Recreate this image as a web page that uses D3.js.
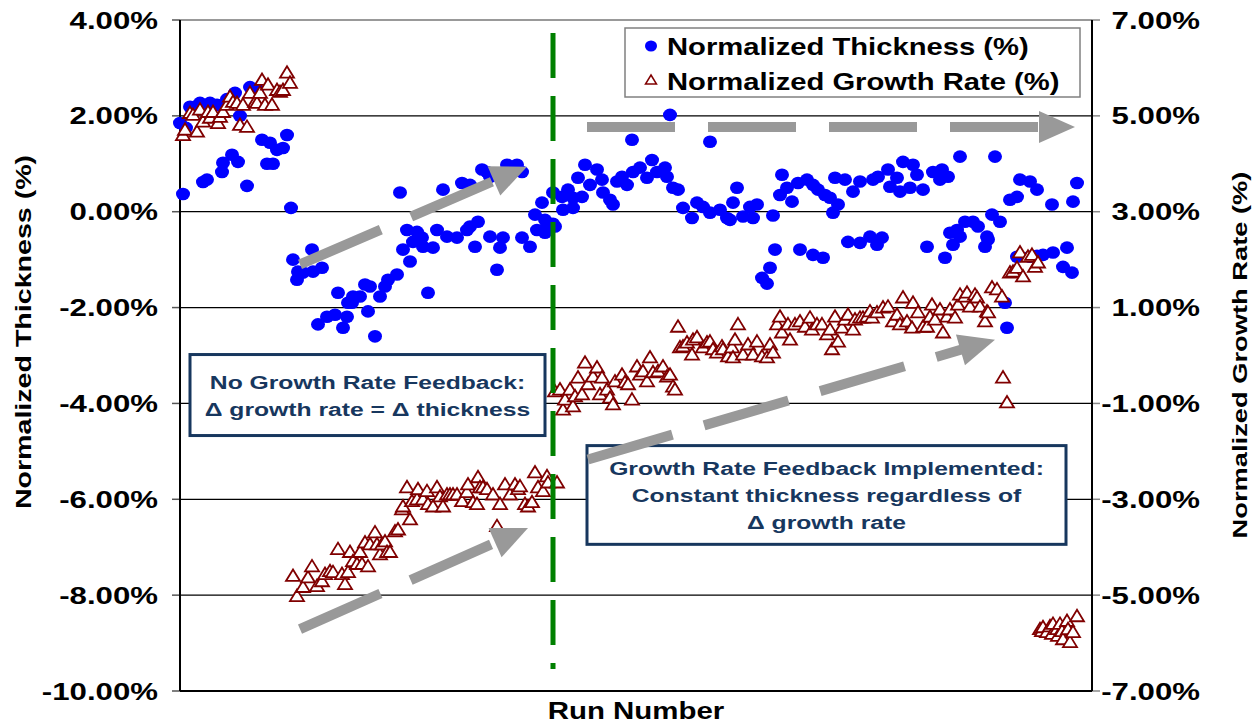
<!DOCTYPE html>
<html>
<head>
<meta charset="utf-8">
<script src="https://cdn.jsdelivr.net/npm/d3@7"></script>
<style>
  html, body { margin: 0; padding: 0; background: #ffffff; }
  svg { display: block; font-family: "Liberation Sans", Arial, Helvetica, sans-serif; font-weight: bold; }
</style>
</head>
<body>
<script>
// ---------------- DATA ----------------
// [run number, normalized thickness %] (left axis)
const thicknessBefore = [
  [0,1.85],[3,0.37],[6,1.75],[10,2.19],[17,2.2],[20,2.27],[23,0.62],[24,2.22],[27,0.67],[30,2.27],
  [37,2.23],[42,0.83],[43,1.02],[47,2.35],[52,1.19],[55,2.48],[58,1.04],[60,2.0],[67,0.54],[70,2.6],
  [77,2.55],[82,1.5],[87,1.0],[90,1.44],[93,1.0],[97,1.29],[103,1.33],[107,1.6],[111,0.08],
  [113,-1.0],[117,-1.42],[118,-1.25],[123,-1.27],[132,-0.79],[133,-1.25],[138,-2.35],[142,-1.17],[147,-2.19],[155,-2.15],
  [158,-1.69],[163,-2.42],[167,-2.19],[168,-1.9],[172,-1.9],[173,-1.77],[180,-1.77],[185,-1.52],[188,-2.08],[190,-1.56],
  [195,-2.6],[200,-1.77],[205,-1.56],[208,-1.42],[217,-1.31],[220,0.4],[223,-0.79],[227,-0.38],[230,-1.04],[233,-0.63],
  [237,-0.42],[242,-0.54],[243,-0.73],[248,-1.69],[253,-0.75],[257,-0.38],[263,0.46],[267,-0.52],[277,-0.54],[282,0.6],
  [287,-0.38],[290,0.56],[290,-0.31],[295,-0.73],[298,-0.21],[302,0.88],[307,0.83],[310,0.73],[310,-0.52],[317,-1.21],
  [320,-0.75],[323,-0.54],[327,0.98],[337,0.98],[342,0.83],[342,-0.54],[350,-0.73],[355,-0.06],[357,-0.38],[362,0.19],
  [365,-0.17],[365,-0.44],[367,-0.31],[373,0.4],[373,-0.25]
];
const thicknessAfter = [
  [375,-0.31],[382,0.31],[383,0.04],[388,0.46],[393,0.29],[393,0.08],[398,0.71],[402,0.31],[405,0.98],[410,0.56],
  [417,0.88],[422,0.67],[423,0.4],[430,0.25],[433,0.15],[437,0.63],[442,0.73],[447,0.56],[452,1.5],[453,0.83],
  [460,0.92],[467,0.71],[472,1.08],[477,0.83],[485,0.92],[487,0.73],[490,2.02],[493,0.5],[498,0.46],[503,0.08],
  [512,-0.13],[517,0.19],[523,0.1],[530,-0.02],[530,1.46],[540,0.04],[547,-0.13],[550,-0.17],[553,0.19],[557,0.5],
  [563,-0.1],[570,0.1],[573,-0.13],[577,0.15],[582,-1.38],[587,-1.5],[590,-1.17],[593,-0.08],[595,-0.79],[600,0.35],
  [602,0.77],[607,0.5],[612,0.21],[618,0.6],[620,-0.79],[627,0.67],[633,0.56],[633,-0.9],[638,0.46],[643,-0.96],
  [645,0.35],[650,0.29],[653,-0.02],[655,0.71],[658,0.15],[665,0.67],[668,-0.63],[673,0.42],[680,0.63],[680,-0.65],
  [690,-0.52],[693,0.67],[697,-0.69],[698,0.73],[702,-0.54],[708,0.88],[710,0.52],[717,0.71],[720,0.42],[723,1.04],
  [730,0.5],[733,0.98],[737,0.77],[743,0.46],[747,-0.73],[753,0.83],[760,0.67],[762,0.88],[765,-0.96],[768,0.73],
  [770,-0.44],[773,-0.69],[777,-0.38],[780,1.15],[780,-0.52],[785,-0.21],[793,-0.21],[798,-0.31],[805,-0.73],[807,-0.52],
  [808,-0.58],[812,-0.06],[815,1.15],[820,-0.21],[825,-1.9],[827,-2.42],[830,0.25],[837,0.31],[837,-0.94],[840,0.67],
  [850,0.63],[850,-0.94],[857,0.46],[857,-0.92],[863,-0.9],[872,0.15],[873,-0.85],[883,-1.15],[887,-0.75],[892,-1.27],
  [893,0.21],[897,0.6]
];
// [run number, normalized growth rate %] (right axis)
const growthBefore = [
  [3,4.6],[5,4.71],[10,5.06],[13,5.02],[17,4.67],[20,5.13],[23,4.88],[28,5.08],[30,4.96],[33,5.08],
  [38,4.85],[40,4.98],[43,5.08],[47,5.23],[50,5.4],[53,5.29],[57,5.27],[60,4.81],[63,5.23],[67,4.77],
  [70,5.48],[75,5.29],[77,5.27],[80,5.48],[82,5.75],[85,5.23],[88,5.65],[92,5.23],[97,5.54],[100,5.5],
  [103,5.54],[107,5.9],[110,5.69],
  [113,-4.6],[117,-5.02],[123,-4.83],[128,-4.63],[132,-4.4],[137,-4.81],[142,-4.71],[145,-4.56],[150,-4.5],[153,-4.52],
  [158,-4.04],[162,-4.56],[165,-4.77],[168,-4.52],[170,-4.1],[173,-4.29],[177,-4.35],[180,-4.1],[182,-4.35],[185,-3.9],
  [188,-4.4],[190,-3.94],[195,-3.69],[197,-3.94],[200,-4.15],[202,-3.94],[205,-3.88],[207,-4.1],[210,-4.1],[215,-3.67],
  [218,-3.63],[222,-3.21],[223,-3.15],[227,-2.75],[230,-3.42],[232,-3.04],[237,-3.0],[238,-2.79],[243,-3.0],[247,-2.83],
  [248,-3.1],[253,-3.15],[257,-2.75],[260,-2.94],[263,-3.15],[267,-2.9],[270,-2.9],[273,-2.9],[277,-2.9],[282,-3.04],
  [287,-2.85],[288,-2.69],[293,-3.06],[297,-3.1],[298,-2.54],[300,-2.75],[303,-2.75],[307,-2.79],[313,-2.9],[317,-3.56],
  [320,-3.1],[325,-2.69],[330,-2.9],[335,-2.69],[338,-2.79],[340,-2.73],[345,-3.1],[348,-3.15],[352,-3.06],[355,-2.44],
  [358,-2.75],[363,-2.83],[367,-2.52],[368,-2.65],[377,-2.65]
];
const growthAfter = [
  [375,-0.75],[380,-0.71],[383,-1.13],[385,-0.92],[390,-0.71],[393,-1.06],[395,-0.85],[398,-0.46],[402,-0.81],[405,-0.15],
  [408,-0.6],[413,-0.44],[417,-0.25],[420,-0.81],[422,-0.46],[427,-0.71],[430,-0.88],[433,-1.02],[435,-0.54],[442,-0.4],
  [445,-0.56],[448,-0.6],[452,-0.92],[457,-0.23],[460,-0.4],[463,-0.33],[467,-0.54],[470,-0.04],[473,-0.35],[478,-0.33],
  [483,-0.23],[487,-0.44],[490,-0.4],[493,-0.65],[495,-0.71],[498,0.6],[500,0.17],[503,0.19],[507,0.27],[512,0.02],
  [513,0.33],[517,0.38],[523,0.17],[527,0.27],[530,0.29],[533,0.13],[537,0.06],[542,0.19],[543,0.13],[548,-0.02],
  [552,0.17],[553,-0.04],[555,0.33],[558,0.65],[563,0.02],[568,0.23],[573,0.02],[577,0.29],[582,-0.02],[587,-0.04],
  [590,0.23],[593,0.06],[597,0.65],[600,0.81],[602,0.48],[608,0.65],[610,0.33],[615,0.65],[620,0.71],[625,0.6],
  [630,0.79],[632,0.54],[637,0.65],[642,0.65],[647,0.44],[650,0.54],[652,0.13],[655,0.81],[658,0.29],[662,0.58],
  [665,0.75],[668,0.85],[673,0.54],[675,0.75],[680,0.79],[683,0.79],[687,0.81],[690,0.92],[692,0.79],[697,0.9],
  [703,1.0],[708,1.02],[713,0.71],[717,0.85],[720,0.65],[723,1.21],[727,0.71],[732,0.58],[733,1.1],[738,0.9],
  [743,0.6],[747,0.6],[750,0.81],[752,1.06],[755,0.75],[760,0.96],[763,0.48],[767,0.81],[770,0.96],[775,0.79],
  [778,1.06],[780,1.27],[785,1.23],[787,1.31],[790,1.02],[795,1.27],[797,1.21],[800,1.02],[805,0.71],[807,0.92],
  [808,0.9],[812,1.42],[817,1.38],[822,1.23],[823,-0.46],[827,-0.98],[830,1.73],[833,1.75],[837,1.83],[840,2.15],
  [843,1.65],[848,2.06],[852,2.1],[855,1.85],[858,1.94]
];
const growthEnd = [
  [860,-5.71],[862,-5.75],[863,-5.67],[867,-5.77],[870,-5.65],[872,-5.81],[873,-5.6],[877,-5.71],[878,-5.85],[880,-5.6],
  [882,-5.75],[883,-5.92],[887,-5.54],[888,-5.71],[890,-5.98],[893,-5.77],[897,-5.44]
];

const leftTicks = [4, 2, 0, -2, -4, -6, -8, -10];
const rightTicks = [7, 5, 3, 1, -1, -3, -5, -7];
const seriesNames = ["Normalized Thickness (%)", "Normalized Growth Rate (%)"];
const feedbackStartRun = 373;
// Trend arrows: [run, left-axis %] start and tip
const trendArrows = [
  { from: [120, -1.1],  to: [347, 0.94] },
  { from: [120, -8.71], to: [348, -6.6] },
  { from: [407, 1.77],  to: [895, 1.77] },
  { from: [408, -5.17], to: [815, -2.67] }
];
const noteBoxes = [
  { runs: [10, 365], pct: [-2.98, -4.67], lines: ["No Growth Rate Feedback:", "\u0394 growth rate = \u0394 thickness"] },
  { runs: [407, 886], pct: [-4.88, -6.94], lines: ["Growth Rate Feedback Implemented:", "Constant thickness regardless of", "\u0394 growth rate"] }
];

// ---------------- SCALES ----------------
const W = 1260, H = 723;
const plot = { left: 180, right: 1092, top: 20, bottom: 691 };
const x = d3.scaleLinear().domain([0, 912]).range([plot.left, plot.right]);
const yL = d3.scaleLinear().domain([-10, 4]).range([plot.bottom, plot.top]);
const yR = d3.scaleLinear().domain([-7, 7]).range([plot.bottom, plot.top]);
const fmt = d3.formatLocale({ decimal: ".", thousands: ",", grouping: [3], currency: ["", ""], minus: "-" }).format(".2f");
const pct = v => fmt(v) + "%";
const SX = 1.3; // horizontal stretch of the original text

const svg = d3.select("body").append("svg").attr("width", W).attr("height", H);

function stretchedText(g, px, py, str, size, anchor, rot, sx, color) {
  return g.append("text")
    .attr("transform", `translate(${px},${py}) rotate(${rot || 0}) scale(${sx || SX},1)`)
    .attr("text-anchor", anchor || "start")
    .attr("font-size", size)
    .attr("fill", color || "#000")
    .text(str);
}

// ---------------- GRID & FRAME ----------------
const grid = svg.append("g");
grid.selectAll("line.grid").data(leftTicks.filter(t => t > -10 && t < 4)).enter()
  .append("line").attr("class", "grid")
  .attr("x1", plot.left).attr("x2", plot.right)
  .attr("y1", d => yL(d)).attr("y2", d => yL(d))
  .attr("stroke", "#000").attr("stroke-width", 1.2);
grid.selectAll("line.lt").data(leftTicks).enter().append("line")
  .attr("x1", plot.left - 8).attr("x2", plot.left)
  .attr("y1", d => yL(d)).attr("y2", d => yL(d))
  .attr("stroke", "#555").attr("stroke-width", 1.5);
grid.selectAll("line.rt").data(rightTicks).enter().append("line")
  .attr("x1", plot.right).attr("x2", plot.right + 8)
  .attr("y1", d => yR(d)).attr("y2", d => yR(d))
  .attr("stroke", "#888").attr("stroke-width", 1.5);
grid.append("line").attr("x1", plot.left).attr("x2", plot.right).attr("y1", plot.top).attr("y2", plot.top)
  .attr("stroke", "#999").attr("stroke-width", 2);
grid.append("line").attr("x1", plot.left).attr("x2", plot.right).attr("y1", plot.bottom).attr("y2", plot.bottom)
  .attr("stroke", "#000").attr("stroke-width", 2);
grid.append("line").attr("x1", plot.left).attr("x2", plot.left).attr("y1", plot.top).attr("y2", plot.bottom)
  .attr("stroke", "#000").attr("stroke-width", 2);
grid.append("line").attr("x1", plot.right).attr("x2", plot.right).attr("y1", plot.top).attr("y2", plot.bottom)
  .attr("stroke", "#000").attr("stroke-width", 2);

// ---------------- POINTS ----------------
const thickness = thicknessBefore.concat(thicknessAfter);
svg.append("g").selectAll("ellipse").data(thickness).enter().append("ellipse")
  .attr("cx", d => x(d[0])).attr("cy", d => yL(d[1]))
  .attr("rx", 7).attr("ry", 6.3)
  .attr("fill", "#0000ff");

const growth = growthBefore.concat(growthAfter, growthEnd);
const triPath = "M0,-6.5L7,5L-7,5Z";
svg.append("g").selectAll("path").data(growth).enter().append("path")
  .attr("d", triPath)
  .attr("transform", d => `translate(${x(d[0])},${yR(d[1])})`)
  .attr("fill", "#fff").attr("stroke", "#800000").attr("stroke-width", 1.8)
  .attr("stroke-linejoin", "miter");

// ---------------- NOTE BOXES ----------------
const boxG = svg.append("g");
noteBoxes.forEach(bx => {
  const x0 = x(bx.runs[0]), x1 = x(bx.runs[1]);
  const y0 = yL(bx.pct[0]), y1 = yL(bx.pct[1]);
  boxG.append("rect").attr("x", x0).attr("y", y0).attr("width", x1 - x0).attr("height", y1 - y0)
    .attr("fill", "#fff").attr("stroke", "#17375e").attr("stroke-width", 3);
  const cx = (x0 + x1) / 2;
  const lh = 27;
  const first = (y0 + y1) / 2 - (bx.lines.length - 1) * lh / 2 + 7;
  bx.lines.forEach((ln, i) => {
    stretchedText(boxG, cx, first + i * lh, ln, 19, "middle", 0, SX, "#17375e");
  });
});

// ---------------- ARROWS (drawn over the note boxes) ----------------
const arrowG = svg.append("g");
trendArrows.forEach(a => {
  const p0 = [x(a.from[0]), yL(a.from[1])];
  const p1 = [x(a.to[0]), yL(a.to[1])];
  const dx = p1[0] - p0[0], dy = p1[1] - p0[1];
  const len = Math.hypot(dx, dy);
  const ux = dx / len, uy = dy / len;
  const nx = -uy, ny = ux;
  const HL = 36, HW = 16;
  const b = [p1[0] - ux * HL, p1[1] - uy * HL];
  arrowG.append("line")
    .attr("x1", p0[0]).attr("y1", p0[1])
    .attr("x2", b[0] + ux * 2).attr("y2", b[1] + uy * 2)
    .attr("stroke", "#999999").attr("stroke-width", 10)
    .attr("stroke-dasharray", "88,33");
  arrowG.append("path")
    .attr("d", `M${p1[0]},${p1[1]}L${b[0] + nx * HW},${b[1] + ny * HW}L${b[0] - nx * HW},${b[1] - ny * HW}Z`)
    .attr("fill", "#999999");
});

// ---------------- FEEDBACK LINE ----------------
svg.append("line")
  .attr("x1", x(feedbackStartRun)).attr("x2", x(feedbackStartRun))
  .attr("y1", yL(3.73)).attr("y2", yL(-9.54))
  .attr("stroke", "#008000").attr("stroke-width", 5)
  .attr("stroke-dasharray", "45,18");

// ---------------- LEGEND ----------------
const lg = svg.append("g");
lg.append("rect").attr("x", 625).attr("y", 28).attr("width", 455).attr("height", 69)
  .attr("fill", "#fff").attr("stroke", "#808080").attr("stroke-width", 1.5);
lg.append("ellipse").attr("cx", 651).attr("cy", 46).attr("rx", 6).attr("ry", 5.5).attr("fill", "#0000ff");
lg.append("path").attr("d", "M0,-5L5.5,4L-5.5,4Z").attr("transform", "translate(651,80)")
  .attr("fill", "#fff").attr("stroke", "#800000").attr("stroke-width", 1.5);
stretchedText(lg, 667, 55, seriesNames[0], 23, "start", 0, 1.27);
stretchedText(lg, 667, 90, seriesNames[1], 23, "start", 0, 1.27);

// ---------------- AXES TEXT ----------------
const axG = svg.append("g");
leftTicks.forEach(t => stretchedText(axG, 158, yL(t) + 8.5, pct(t), 24, "end"));
rightTicks.forEach(t => stretchedText(axG, 1200, yR(t) + 8.5, pct(t), 24, "end"));
stretchedText(axG, 636, 719, "Run Number", 23, "middle", 0, 1.28);
stretchedText(axG, 31, 332, "Normalized Thickness (%)", 22, "middle", -90, 1.3);
stretchedText(axG, 1247, 355, "Normalized Growth Rate (%)", 21, "middle", -90, 1.3);
</script>
</body>
</html>
